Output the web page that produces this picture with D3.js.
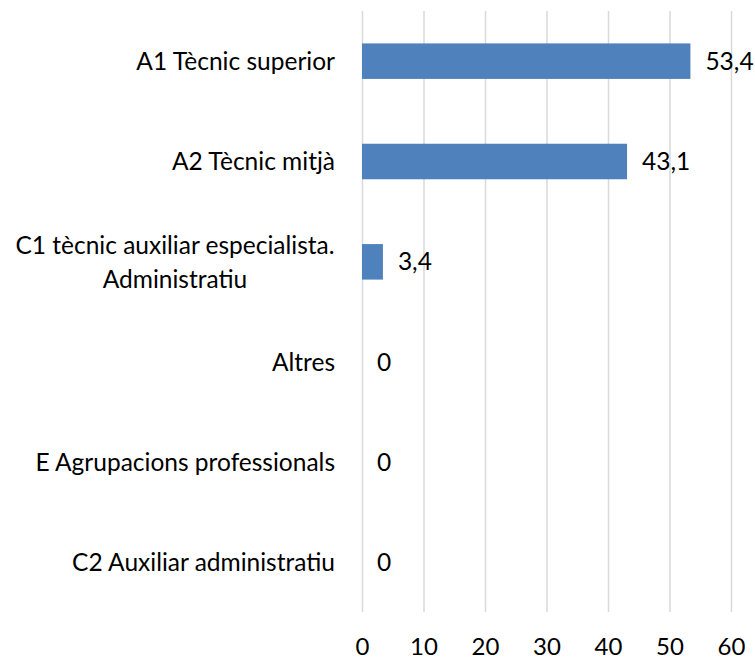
<!DOCTYPE html>
<meta charset="utf-8">
<style>
body { margin: 0; background: #fff; }
svg { display: block; }
.lbl { font-family: Lato, sans-serif; font-size: 24.5px; fill: #000; }
.val { font-family: Lato, sans-serif; font-size: 24.5px; fill: #000; }
.grid line { stroke: #d9d9d9; stroke-width: 1.5; }
.grid .domain { display: none; }
</style>
<svg width="755" height="659"></svg>
<script src="https://d3js.org/d3.v7.min.js"></script>
<script>

var categories = [
  "A1 Tècnic superior",
  "A2 Tècnic mitjà",
  "C1 tècnic auxiliar especialista.|Administratiu",
  "Altres",
  "E Agrupacions professionals",
  "C2 Auxiliar administratiu"
];
var values = [53.4, 43.1, 3.4, 0, 0, 0];
var ticks = [0, 10, 20, 30, 40, 50, 60];

var svg = d3.select("svg");

var x = d3.scaleLinear().domain([0, 60]).range([362, 731]);
var y = d3.scaleBand().domain(categories).range([11, 613]).paddingInner(0.646).paddingOuter(0.323);

var fmt = function(v) { return String(v).replace(".", ","); };

// vertical gridlines
svg.append("g")
    .attr("class", "grid")
    .attr("transform", "translate(0,11)")
  .call(d3.axisBottom(x).tickValues(ticks).tickSize(601).tickFormat(""))
  .selectAll(".tick text").remove();

// tick labels
svg.append("g")
    .attr("transform", "translate(0,613)")
  .call(d3.axisBottom(x).tickValues(ticks).tickSize(0).tickPadding(25))
  .call(function(g) { g.select(".domain").remove(); })
  .selectAll("text")
    .attr("fill", "#000")
    .attr("font-family", "Lato, sans-serif")
    .attr("font-size", 24);

// bars
svg.append("g").selectAll("rect")
    .data(values)
  .enter().append("rect")
    .attr("x", x(0))
    .attr("y", function(d, i) { return y(categories[i]); })
    .attr("width", function(d) { return x(d) - x(0); })
    .attr("height", y.bandwidth())
    .attr("fill", "#4f81bd");

// value labels
svg.append("g").selectAll("text")
    .data(values)
  .enter().append("text")
    .attr("class", "val")
    .attr("x", function(d) { return x(d) + 15; })
    .attr("y", function(d, i) { return y(categories[i]) + y.bandwidth() / 2; })
    .attr("dy", "0.35em")
    .text(fmt);

// category labels
var lbl = svg.append("g").selectAll("text")
    .data(categories)
  .enter().append("text")
    .attr("class", "lbl")
    .attr("text-anchor", "end")
    .attr("y", function(d) { return y(d) + y.bandwidth() / 2; });

lbl.each(function(d) {
  var lines = d.split("|"),
      t = d3.select(this);
  if (lines.length == 1) {
    t.attr("x", 335).attr("dy", "0.35em").text(d);
  } else {
    t.attr("text-anchor", "middle");
    lines.forEach(function(s, k) {
      t.append("tspan")
          .attr("x", 175)
          .attr("dy", k == 0 ? "-0.33em" : "1.4em")
          .text(s);
    });
  }
});

</script>
